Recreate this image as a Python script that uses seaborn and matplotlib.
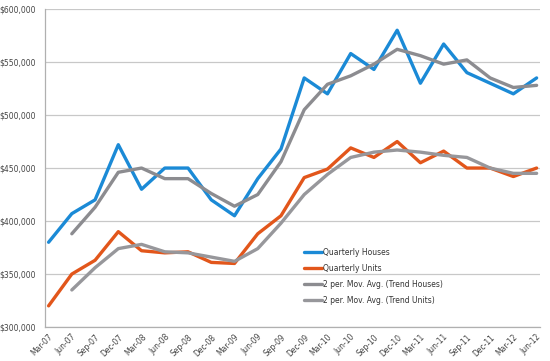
import matplotlib
matplotlib.use("Agg")
import matplotlib.pyplot as plt
import seaborn as sns
import pandas as pd
import numpy as np
from matplotlib.ticker import FuncFormatter

quarters = ["Mar-07", "Jun-07", "Sep-07", "Dec-07", "Mar-08", "Jun-08", "Sep-08", "Dec-08",
            "Mar-09", "Jun-09", "Sep-09", "Dec-09", "Mar-10", "Jun-10", "Sep-10", "Dec-10",
            "Mar-11", "Jun-11", "Sep-11", "Dec-11", "Mar-12", "Jun-12"]

houses = [380, 407, 420, 472, 430, 450, 450, 420, 405, 440, 468, 535,
          520, 558, 543, 580, 530, 567, 540, 530, 520, 535]
units = [320, 350, 363, 390, 372, 370, 371, 361, 360, 388, 405, 441,
         449, 469, 460, 475, 455, 466, 450, 450, 442, 450]
trend_houses = [np.nan, 388, 413, 446, 450, 440, 440, 426, 414, 425, 456, 505,
                529, 537, 548, 562, 556, 548, 552, 535, 526, 528]
trend_units = [np.nan, 335, 356, 374, 378, 371, 370, 366, 362, 374, 398, 425,
               444, 460, 465, 467, 465, 462, 460, 450, 445, 445]

series = {
    "Quarterly Houses": houses,
    "Quarterly Units": units,
    "2 per. Mov. Avg. (Trend Houses)": trend_houses,
    "2 per. Mov. Avg. (Trend Units)": trend_units,
}
colors = {
    "Quarterly Houses": "#1b8ad6",
    "Quarterly Units": "#e2561b",
    "2 per. Mov. Avg. (Trend Houses)": "#8c8c90",
    "2 per. Mov. Avg. (Trend Units)": "#97979b",
}

sns.set_style("white")
plt.rcParams["font.family"] = ["Liberation Sans Narrow", "DejaVu Sans"]

fig = plt.figure(figsize=(5.5, 3.61), dpi=100)
ax = fig.add_axes([0.082, 0.094, 0.9, 0.881])

for name, vals in series.items():
    df = pd.DataFrame({"q": np.arange(len(quarters)), "v": np.array(vals, dtype=float) * 1000})
    df = df.dropna()
    sns.lineplot(data=df, x="q", y="v", ax=ax, color=colors[name], linewidth=2.4,
                 label=name)

ax.set_ylim(300000, 600000)
ax.set_yticks(np.arange(300000, 600001, 50000))
ax.yaxis.set_major_formatter(FuncFormatter(lambda v, p: f"${v:,.0f}"))
ax.set_xlim(-0.15, len(quarters) - 0.85)
ax.set_xticks(np.arange(len(quarters)))
ax.set_xticklabels(quarters, rotation=45, ha="right", rotation_mode="anchor")
ax.tick_params(axis="both", labelsize=5.5, colors="#444444", length=3, width=0.6)
ax.tick_params(axis="x", pad=1)
ax.grid(axis="y", color="#c8c8c8", linewidth=0.9)
ax.set_axisbelow(True)
for s in ["top", "right"]:
    ax.spines[s].set_visible(False)
for s in ["left", "bottom"]:
    ax.spines[s].set_color("#b0b0b0")
    ax.spines[s].set_linewidth(0.9)
ax.set_xlabel("")
ax.set_ylabel("")

leg = ax.legend(loc="upper left", bbox_to_anchor=(0.51, 0.27), frameon=False,
                fontsize=5.5, handlelength=2.3, handletextpad=0.1, labelspacing=0.9)
for t in leg.get_texts():
    t.set_color("#333333")

fig.savefig("out.png", dpi=100)
